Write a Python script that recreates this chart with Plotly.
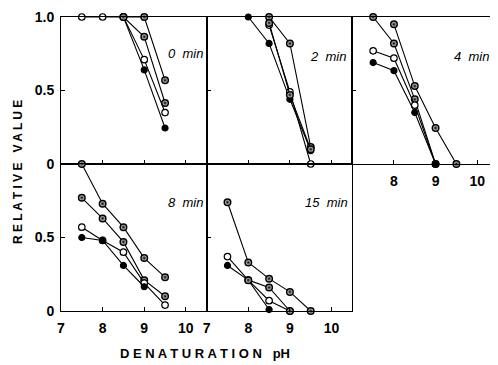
import plotly.graph_objects as go
from plotly.subplots import make_subplots

# ---- data ----
panel_labels = ["0 min", "2 min", "4 min", "8 min", "15 min"]
panel_cells = [(1, 1), (1, 2), (1, 3), (2, 1), (2, 2)]

# 0 min
p0_open_x = [7.5, 8.0, 8.5, 9.0, 9.5]
p0_open_y = [1.0, 1.0, 1.0, 0.71, 0.35]
p0_filled_x = [8.5, 9.0, 9.5]
p0_filled_y = [1.0, 0.64, 0.245]
p0_halfb_x = [8.5, 9.0, 9.5]
p0_halfb_y = [1.0, 0.865, 0.415]
p0_halfa_x = [8.5, 9.0, 9.5]
p0_halfa_y = [1.0, 1.0, 0.57]

# 2 min
p1_filled_x = [8.0, 8.5, 9.0, 9.5]
p1_filled_y = [1.0, 0.82, 0.44, 0.09]
p1_open_x = [8.5, 9.0, 9.5]
p1_open_y = [0.945, 0.49, 0.0]
p1_halfa_x = [8.5, 9.0, 9.5]
p1_halfa_y = [1.0, 0.82, 0.115]
p1_halfb_x = [8.5, 9.0, 9.5]
p1_halfb_y = [0.96, 0.47, 0.10]

# 4 min
p2_halfa_x = [8.0, 8.5, 9.0, 9.5]
p2_halfa_y = [0.95, 0.53, 0.245, 0.0]
p2_halfb_x = [7.5, 8.0, 8.5, 9.0]
p2_halfb_y = [1.0, 0.82, 0.44, 0.0]
p2_open_x = [7.5, 8.0, 8.5, 9.0]
p2_open_y = [0.77, 0.72, 0.40, 0.0]
p2_filled_x = [7.5, 8.0, 8.5, 9.0]
p2_filled_y = [0.69, 0.635, 0.35, 0.0]

# 8 min
p3_halfa_x = [7.5, 8.0, 8.5, 9.0, 9.5]
p3_halfa_y = [1.0, 0.73, 0.57, 0.36, 0.23]
p3_halfb_x = [7.5, 8.0, 8.5, 9.0, 9.5]
p3_halfb_y = [0.77, 0.63, 0.47, 0.21, 0.10]
p3_open_x = [7.5, 8.0, 8.5, 9.0, 9.5]
p3_open_y = [0.57, 0.48, 0.40, 0.19, 0.04]
p3_filled_x = [7.5, 8.0, 8.5, 9.0]
p3_filled_y = [0.50, 0.48, 0.31, 0.165]

# 15 min
p4_halfa_x = [7.5, 8.0, 8.5, 9.0, 9.5]
p4_halfa_y = [0.74, 0.33, 0.22, 0.13, 0.0]
p4_open_x = [7.5, 8.0, 8.5, 9.0]
p4_open_y = [0.37, 0.21, 0.07, 0.0]
p4_filled_x = [7.5, 8.0, 8.5]
p4_filled_y = [0.31, 0.21, 0.01]
p4_halfb_x = [8.0, 8.5, 9.0]
p4_halfb_y = [0.21, 0.16, 0.0]

x_tick_vals = [7, 8, 9, 10]
x_tick_text = ["7", "8", "9", "10"]

panels = [
    [("open", p0_open_x, p0_open_y), ("filled", p0_filled_x, p0_filled_y),
     ("half", p0_halfb_x, p0_halfb_y), ("half", p0_halfa_x, p0_halfa_y)],
    [("filled", p1_filled_x, p1_filled_y), ("open", p1_open_x, p1_open_y),
     ("half", p1_halfa_x, p1_halfa_y), ("half", p1_halfb_x, p1_halfb_y)],
    [("half", p2_halfa_x, p2_halfa_y), ("half", p2_halfb_x, p2_halfb_y),
     ("open", p2_open_x, p2_open_y), ("filled", p2_filled_x, p2_filled_y)],
    [("half", p3_halfa_x, p3_halfa_y), ("half", p3_halfb_x, p3_halfb_y),
     ("open", p3_open_x, p3_open_y), ("filled", p3_filled_x, p3_filled_y)],
    [("half", p4_halfa_x, p4_halfa_y), ("open", p4_open_x, p4_open_y),
     ("filled", p4_filled_x, p4_filled_y), ("half", p4_halfb_x, p4_halfb_y)],
]

fig = make_subplots(rows=2, cols=3, horizontal_spacing=0, vertical_spacing=0)


def marker_for(kind):
    if kind == "filled":
        return dict(symbol="circle", size=6, color="black", line=dict(color="black", width=1.2))
    if kind == "open":
        return dict(symbol="circle", size=6.5, color="white", line=dict(color="black", width=1.2))
    return dict(symbol="circle", size=6.5, color="white", line=dict(color="black", width=1.5),
                gradient=dict(type="radial", color="black"))


for (r, c), series in zip(panel_cells, panels):
    for kind, xs, ys in series:
        fig.add_trace(go.Scatter(x=xs, y=ys, mode="lines+markers",
                                 line=dict(color="black", width=1.1),
                                 marker=marker_for(kind), cliponaxis=False,
                                 showlegend=False), row=r, col=c)

tickfont = dict(family="Arial", size=14, color="black", weight="bold")
axis_common = dict(showline=True, linecolor="black", linewidth=1, mirror=True,
                   ticks="inside", ticklen=4, tickcolor="black", showgrid=False,
                   zeroline=False, tickfont=tickfont, automargin=False)

for r in (1, 2):
    for c in (1, 2, 3):
        if (r, c) == (2, 3):
            fig.update_xaxes(visible=False, row=r, col=c)
            fig.update_yaxes(visible=False, row=r, col=c)
            continue
        show_x = (r == 2) or (c == 3)
        if c == 3:
            xv, xt = x_tick_vals[1:], x_tick_text[1:]
        else:
            xv, xt = x_tick_vals, x_tick_text
        fig.update_xaxes(range=[7, 10.5], tickvals=xv, ticktext=xt,
                         showticklabels=show_x, ticklabelstandoff=4,
                         **axis_common, row=r, col=c)
        if c == 1 and r == 1:
            yv, yt = [0, 0.5, 1.0], ["0", "0.5", "1.0"]
        elif c == 1:
            yv, yt = [0, 0.5], ["0", "0.5"]
        else:
            yv, yt = [0.5], ["0.5"]
        fig.update_yaxes(range=[0, 1.0], tickvals=yv, ticktext=yt,
                         showticklabels=(c == 1), ticklabelstandoff=3,
                         **axis_common, row=r, col=c)

# panel labels
label_x = [10.45, 10.4, 10.32, 10.45, 10.45]
label_y = [0.755, 0.73, 0.73, 0.74, 0.74]
for i, ((r, c), lab) in enumerate(zip(panel_cells, panel_labels)):
    n = (r - 1) * 3 + c
    fig.add_annotation(x=label_x[i], y=label_y[i], xref=f"x{n}", yref=f"y{n}",
                       text=lab.replace(" ", "  "), showarrow=False, xanchor="right",
                       font=dict(family="Arial", size=13, color="black", style="italic"))

fig.add_annotation(x=-0.098, y=0.473, xref="paper", yref="paper",
                   xanchor="center", yanchor="middle",
                   text="R E L A T I V E   V A L U E", textangle=-90, showarrow=False,
                   font=dict(family="Arial", size=12, color="black", weight="bold"))
fig.add_annotation(x=0.33, y=-0.143, xref="paper", yref="paper",
                   xanchor="center", yanchor="middle",
                   text="D E N A T U R A T I O N   pH", showarrow=False,
                   font=dict(family="Arial", size=13, color="black", weight="bold"))

# page body has an 8px default margin; size the figure so the plot area
# lands at the same page pixels as the reference
fig.update_layout(width=490, height=357, margin=dict(l=53, r=0, t=9, b=54, autoexpand=False),
                  paper_bgcolor="white", plot_bgcolor="white")

fig.write_html("out.html")
